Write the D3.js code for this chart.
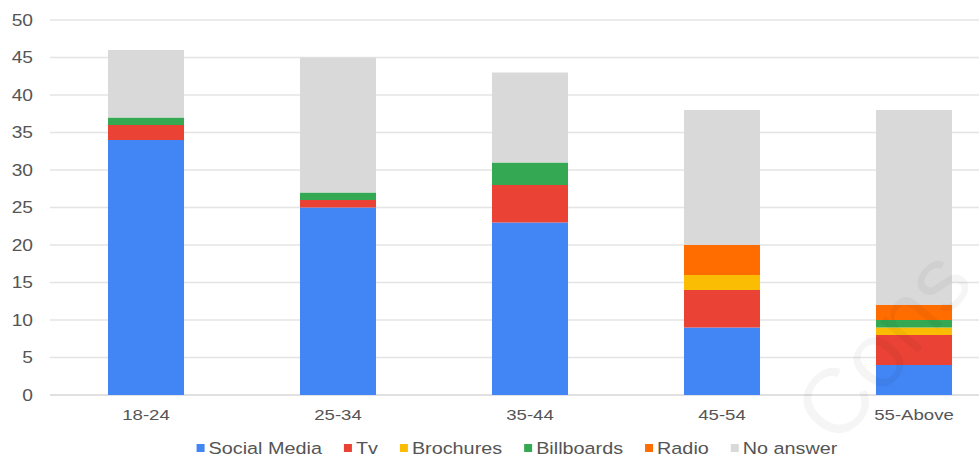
<!DOCTYPE html>
<html>
<head>
<meta charset="utf-8">
<script src="https://cdn.jsdelivr.net/npm/d3@7"></script>
<style>
  html, body { margin: 0; padding: 0; background: #fff; }
  svg { display: block; }
  text { font-family: "Liberation Sans", Arial, sans-serif; fill: #555; }
</style>
</head>
<body>
<svg id="chart" width="979" height="458"></svg>
<script>
// Age groups on the x axis
const categories = ["18-24", "25-34", "35-44", "45-54", "55-Above"];

// Stacked series, bottom to top
const seriesNames = ["Social Media", "Tv", "Brochures", "Billboards", "Radio", "No answer"];
const socialMedia = [34, 25, 23, 9, 4];
const tv          = [2, 1, 5, 5, 4];
const brochures   = [0, 0, 0, 2, 1];
const billboards  = [1, 1, 3, 0, 1];
const radio       = [0, 0, 0, 4, 2];
const noAnswer    = [9, 18, 12, 18, 26];

const yTicks = [0, 5, 10, 15, 20, 25, 30, 35, 40, 45, 50];
const colors = ["#4285f4", "#ea4335", "#fbbc04", "#34a853", "#ff6d01", "#d9d9d9"];

const seriesValues = [socialMedia, tv, brochures, billboards, radio, noAnswer];
const rows = categories.map((c, i) => {
  const r = { category: c };
  seriesNames.forEach((s, k) => { r[s] = seriesValues[k][i]; });
  return r;
});

const svg = d3.select("#chart");
const stretch = 1.2;   // horizontal text stretch

const x = d3.scaleBand().domain(categories).range([50, 1010]).paddingInner(0.604).paddingOuter(0.302);
const y = d3.scaleLinear().domain([0, 50]).range([395, 20]);

// Gridlines
svg.append("g")
  .selectAll("line")
  .data(yTicks)
  .join("line")
  .attr("x1", 50).attr("x2", 1010)
  .attr("y1", d => y(d)).attr("y2", d => y(d))
  .attr("stroke", d => d === 0 ? "#d6d6d6" : "#e4e4e4")
  .attr("stroke-width", 1.6);

// Y tick labels
svg.append("g")
  .selectAll("text")
  .data(yTicks)
  .join("text")
  .attr("transform", d => `translate(33,${y(d)}) scale(${stretch},1)`)
  .attr("text-anchor", "end")
  .attr("dy", "0.36em")
  .attr("font-size", 16)
  .text(d => d);

// Stacked bars
const stack = d3.stack().keys(seriesNames);
const layers = stack(rows);

svg.append("g")
  .selectAll("g")
  .data(layers)
  .join("g")
  .attr("fill", (d, i) => colors[i])
  .selectAll("rect")
  .data(d => d)
  .join("rect")
  .attr("x", d => x(d.data.category))
  .attr("width", x.bandwidth())
  .attr("y", d => y(d[1]))
  .attr("height", d => y(d[0]) - y(d[1]));

// X labels
svg.append("g")
  .selectAll("text")
  .data(categories)
  .join("text")
  .attr("transform", d => `translate(${x(d) + x.bandwidth() / 2},420) scale(${stretch},1)`)
  .attr("text-anchor", "middle")
  .attr("font-size", 15.5)
  .text(d => d);

// Legend
const legend = svg.append("g");
let cursor = 0;
seriesNames.forEach((name, i) => {
  const g = legend.append("g");
  g.append("rect")
    .attr("x", 0).attr("y", -4)
    .attr("width", 8).attr("height", 8)
    .attr("fill", colors[i]);
  const t = g.append("text")
    .attr("transform", `translate(12,0) scale(${stretch},1)`)
    .attr("dy", "0.36em")
    .attr("font-size", 16.5)
    .text(name);
  const w = 12 + t.node().getComputedTextLength() * stretch;
  g.attr("transform", `translate(${cursor},0)`);
  cursor += w + 22;
});
const totalW = cursor - 22;
legend.attr("transform", `translate(${517 - totalW / 2},448)`);

// Faint watermark over the plot
svg.append("text")
  .attr("transform", "translate(838,448) rotate(-50)")
  .attr("font-size", 92)
  .attr("font-family", "Lato, 'Liberation Sans', sans-serif")
  .attr("font-weight", 300)
  .style("fill", "#000")
  .style("fill-opacity", 0.04)
  .text("Cons");
</script>
</body>
</html>
